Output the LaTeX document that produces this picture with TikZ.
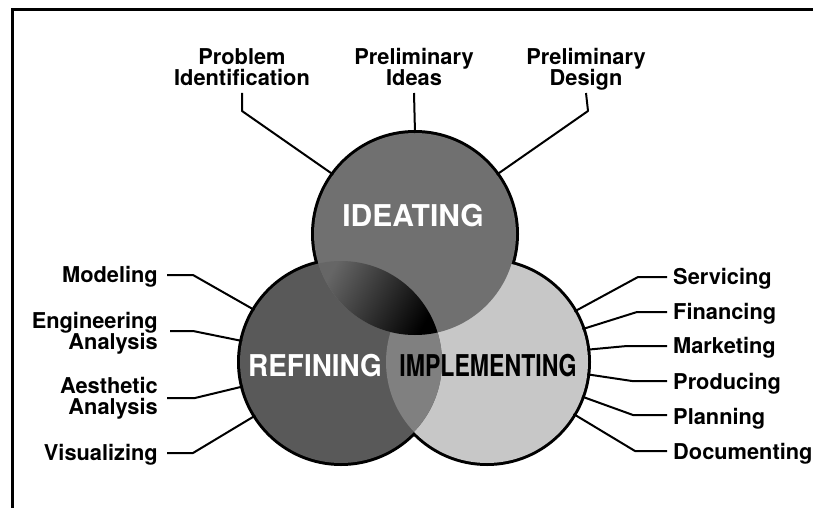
\documentclass[tikz,border=0pt]{standalone}
\usepackage{fontspec}
\setmainfont{TeX Gyre Heros}
\usetikzlibrary{calc}
\definecolor{ideafill}{gray}{0.44}
\definecolor{refinefill}{gray}{0.35}
\definecolor{implfill}{gray}{0.78}
\definecolor{rmfill}{gray}{0.50}
\begin{document}
\begin{tikzpicture}[x=1pt,y=-1pt,
  lbl/.style={font=\bfseries\fontsize{21.8}{21.5}\selectfont, inner sep=0pt},
  lead/.style={line width=2pt, line join=round},
  rim/.style={circle, minimum size=202pt, inner sep=0pt, outer sep=0pt},
  big/.style={font=\bfseries\fontsize{30}{30}\selectfont, inner sep=0pt}]
\useasboundingbox (0,0) rectangle (813,508);

% frame
\draw[line width=3pt] (12,508) -- (12,10) -- (813,10);

% the three phase circles
\node[rim] (ide) at (415,234) {};
\node[rim] (ref) at (341,362) {};
\node[rim] (imp) at (487,362) {};

% outer rim of the union: wide strokes, inner half covered by the fills
\foreach \c in {ide,ref,imp}
  \draw[line width=6pt] (\c.center) circle (101pt);

\fill[implfill] (imp.center) circle (101pt);
\fill[refinefill] (ref.center) circle (101pt);
\begin{scope}
  \clip (ref.center) circle (101pt);
  \fill[rmfill] (imp.center) circle (101pt);
\end{scope}
\fill[ideafill] (ide.center) circle (101pt);
\begin{scope}
  \clip (ide.center) circle (101pt);
  \clip (ref.center) circle (101pt);
  \shade[top color=black!60, middle color=black!75, bottom color=black, shading angle=60]
    (315,260) rectangle (440,336);
\end{scope}

% phase names
\node[big, text=white] (tI) at (413,216) {IDEATING};
\node[big, text=white] (tR) at (315,366) {\scalebox{0.93}[1]{REFINING}};
\node[big] (tM) at (488,366) {\scalebox{0.77}[1]{IMPLEMENTING}};

% top labels
\node[lbl, align=center, anchor=north] (prob) at (242,48) {Problem\\Identification};
\node[lbl, align=center, anchor=north] (idea) at (414,48) {Preliminary\\Ideas};
\node[lbl, align=center, anchor=north] (dsgn) at (586,48) {Preliminary\\Design};

\coordinate (pe) at (242,111);
\coordinate (de) at (588,111);
\draw[lead] (prob.south |- 0,93) -- (pe) -- (ide.144);
\draw[lead] (idea.south |- 0,93) -- (ide.90);
\draw[lead] (dsgn.south |- 0,93) -- (de) -- (ide.36);

% left labels
\node[lbl, anchor=base east] (mod) at (158,282.5) {Modeling};
\node[lbl, align=right, anchor=north east] (eng) at (158,312) {Engineering\\Analysis};
\node[lbl, align=right, anchor=north east] (aes) at (158,377) {Aesthetic\\Analysis};
\node[lbl, anchor=base east] (vis) at (158,460.5) {Visualizing};

\coordinate (me) at (193,275);
\coordinate (ee) at (193,331);
\coordinate (ae) at (195,398);
\coordinate (ve) at (193,453);
\draw[lead, shorten <=9pt] (mod.east |- me) -- (me) -- (ref.149);
\draw[lead, shorten <=12pt] (eng.east |- ee) -- (ee) -- (ref.168);
\draw[lead, shorten <=9pt] (aes.east |- ae) -- (ae) -- (ref.194);
\draw[lead, shorten <=9pt] (vis.east |- ve) -- (ve) -- (ref.212);

% right labels
\node[lbl, anchor=base west] (serv) at (673,284.5) {Servicing};
\node[lbl, anchor=base west] (fin) at (673,319.5) {Financing};
\node[lbl, anchor=base west] (mkt) at (673,353.5) {Marketing};
\node[lbl, anchor=base west] (prod) at (673,389.5) {Producing};
\node[lbl, anchor=base west] (plan) at (673,424.5) {Planning};
\node[lbl, anchor=base west] (doc) at (673,459.5) {Documenting};

\coordinate (se) at (638,277);
\coordinate (fe) at (637,312);
\coordinate (ke) at (627,346);
\coordinate (oe) at (632,381);
\coordinate (le) at (633,415);
\coordinate (ce) at (635,451);
\draw[lead, shorten <=6pt] (serv.west |- se) -- (se) -- (imp.30);
\draw[lead, shorten <=6pt] (fin.west |- fe) -- (fe) -- (imp.19);
\draw[lead, shorten <=6pt] (mkt.west |- ke) -- (ke) -- (imp.7);
\draw[lead, shorten <=6pt] (prod.west |- oe) -- (oe) -- (imp.-7);
\draw[lead, shorten <=6pt] (plan.west |- le) -- (le) -- (imp.-20);
\draw[lead, shorten <=6pt] (doc.west |- ce) -- (ce) -- (imp.-31);
\end{tikzpicture}
\end{document}
